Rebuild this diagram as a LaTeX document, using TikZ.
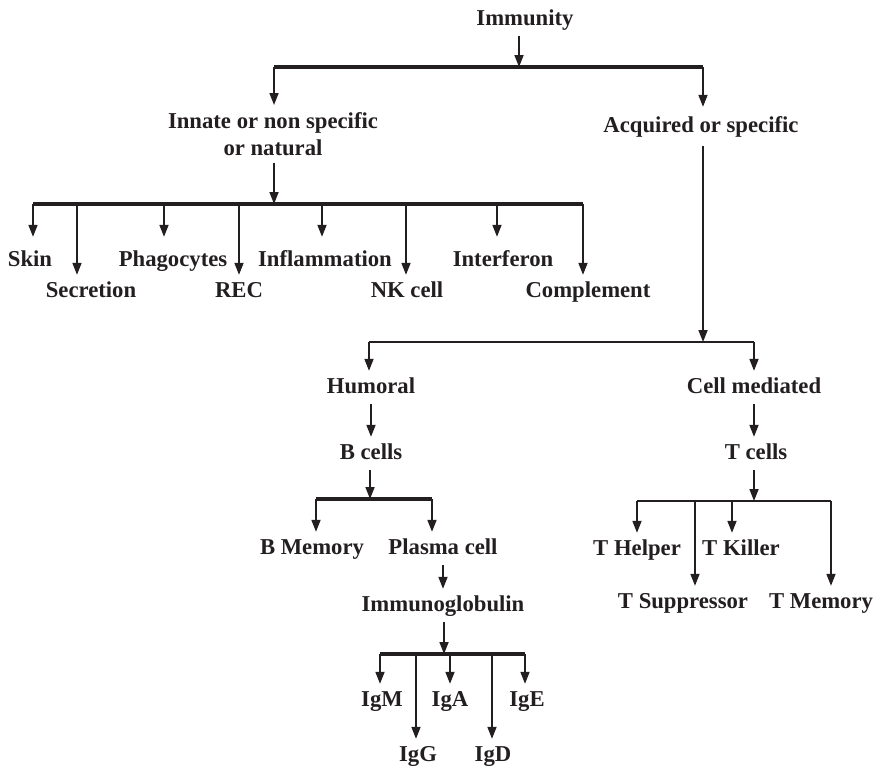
\documentclass[tikz,border=0pt]{standalone}
\usepackage{fontspec}
\setmainfont{Liberation Serif}
\usetikzlibrary{arrows.meta}
\definecolor{ink}{HTML}{231F20}

\begin{document}
\begin{tikzpicture}[x=1pt, y=-1pt, >={Triangle[length=12pt, width=9pt]}, color=ink,
  lbl/.style={inner xsep=2pt, inner ysep=7pt, font=\fontsize{22.7}{27}\selectfont\bfseries},
  leaf/.style={lbl, anchor=base, text height=15pt, text depth=4pt},
  bar/.style={line width=3.4pt},
  thinbar/.style={line width=2.2pt},
  arr/.style={->, line width=1.7pt}]
  \useasboundingbox (0,0) rectangle (877,766);

  % first level
  \node[leaf] (immunity) at (525,25) {Immunity};
  \node[lbl, align=center, anchor=north] (innate) at (273,105) {Innate or non specific\\or natural};
  \node[leaf] (acquired) at (701,132) {Acquired or specific};
  \coordinate (topJ) at (519,67);
  \coordinate (topL) at (274,67);
  \coordinate (topR) at (703,67);
  \draw[arr] (immunity.south -| topJ) -- (topJ);
  \draw[bar] (topL) -- (topR);
  \draw[arr] (topL) -- (topL |- innate.north);
  \draw[arr, shorten >=3pt] (topR) -- (topR |- acquired.north);

  % innate branch
  \node[leaf] (skin) at (30,266) {Skin};
  \node[leaf] (secretion) at (91,297) {Secretion};
  \node[leaf] (phago) at (173,266) {Phagocytes};
  \node[leaf] (rec) at (239,297) {REC};
  \node[leaf] (inflam) at (325,266) {Inflammation};
  \node[leaf] (nk) at (407,297) {NK cell};
  \node[leaf] (interferon) at (503,266) {Interferon};
  \node[leaf] (complement) at (588,297) {Complement};
  \coordinate (innJ) at (274,204);
  \coordinate (i1) at (33,204);
  \coordinate (i2) at (77,204);
  \coordinate (i3) at (164,204);
  \coordinate (i4) at (239,204);
  \coordinate (i5) at (322,204);
  \coordinate (i6) at (406,204);
  \coordinate (i7) at (497,204);
  \coordinate (i8) at (583,204);
  \draw[arr] (innate.south -| innJ) -- (innJ);
  \draw[bar] (i1) -- (i8);
  \draw[arr, shorten >=7pt] (i1) -- (i1 |- skin.north);
  \draw[arr] (i2) -- (i2 |- secretion.north);
  \draw[arr, shorten >=7pt] (i3) -- (i3 |- phago.north);
  \draw[arr] (i4) -- (i4 |- rec.north);
  \draw[arr, shorten >=7pt] (i5) -- (i5 |- inflam.north);
  \draw[arr] (i6) -- (i6 |- nk.north);
  \draw[arr, shorten >=7pt] (i7) -- (i7 |- interferon.north);
  \draw[arr] (i8) -- (i8 |- complement.north);

  % acquired branch
  \node[leaf] (humoral) at (371,393) {Humoral};
  \node[leaf] (cellmed) at (754,393) {Cell mediated};
  \coordinate (acqJ) at (703,342);
  \coordinate (acqL) at (369,342);
  \coordinate (acqR) at (754,342);
  \draw[arr, shorten <=3pt] (acquired.south -| acqJ) -- (acqJ);
  \draw[thinbar] (acqL) -- (acqR);
  \draw[arr] (acqL) -- (acqL |- humoral.north);
  \draw[arr] (acqR) -- (acqR |- cellmed.north);

  % humoral side
  \node[leaf] (bcells) at (371,459) {B cells};
  \node[leaf] (bmem) at (312,554) {B Memory};
  \node[leaf] (plasma) at (443,554) {Plasma cell};
  \node[leaf] (immuno) at (443,611) {Immunoglobulin};
  \coordinate (bJ) at (370,499);
  \coordinate (bL) at (316,499);
  \coordinate (bR) at (432,499);
  \draw[arr] (humoral) -- (bcells);
  \draw[arr] (bcells.south -| bJ) -- (bJ);
  \draw[bar] (bL) -- (bR);
  \draw[arr] (bL) -- (bL |- bmem.north);
  \draw[arr] (bR) -- (bR |- plasma.north);
  \draw[arr] (plasma) -- (immuno);

  \node[leaf] (igm) at (382,706) {IgM};
  \node[leaf] (igg) at (418,761) {IgG};
  \node[leaf] (iga) at (450,706) {IgA};
  \node[leaf] (igd) at (493,761) {IgD};
  \node[leaf] (ige) at (527,706) {IgE};
  \coordinate (igJ) at (444,654);
  \coordinate (g1) at (380,654);
  \coordinate (g2) at (416,654);
  \coordinate (g3) at (450,654);
  \coordinate (g4) at (492,654);
  \coordinate (g5) at (525,654);
  \draw[arr] (immuno.south -| igJ) -- (igJ);
  \draw[bar] (g1) -- (g5);
  \draw[arr] (g1) -- (g1 |- igm.north);
  \draw[arr] (g2) -- (g2 |- igg.north);
  \draw[arr] (g3) -- (g3 |- iga.north);
  \draw[arr] (g4) -- (g4 |- igd.north);
  \draw[arr] (g5) -- (g5 |- ige.north);

  % cell mediated side
  \node[leaf] (tcells) at (756,459) {T cells};
  \node[leaf] (thelper) at (637,555) {T Helper};
  \node[leaf] (tkiller) at (741,555) {T Killer};
  \node[leaf] (tsupp) at (683,608) {T Suppressor};
  \node[leaf] (tmem) at (821,608) {T Memory};
  \coordinate (tJ) at (754,501);
  \coordinate (t1) at (637,501);
  \coordinate (t2) at (695,501);
  \coordinate (t3) at (732,501);
  \coordinate (t4) at (831,501);
  \draw[arr] (cellmed.south) -- (cellmed.south |- tcells.north);
  \draw[arr] (tcells.south -| tJ) -- (tJ);
  \draw[thinbar] (t1) -- (t4);
  \draw[arr] (t1) -- (t1 |- thelper.north);
  \draw[arr] (t2) -- (t2 |- tsupp.north);
  \draw[arr] (t3) -- (t3 |- tkiller.north);
  \draw[arr] (t4) -- (t4 |- tmem.north);
\end{tikzpicture}
\end{document}
